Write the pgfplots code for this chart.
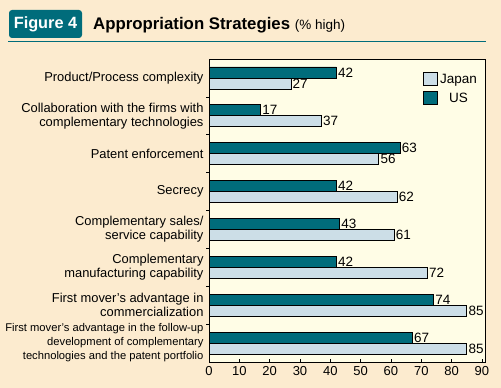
\documentclass[border=0pt]{standalone}
\usepackage{pgfplots}
\pgfplotsset{compat=1.18}
\usepackage{fontspec}
\setmainfont{Liberation Sans}
\definecolor{bgout}{HTML}{FCEBCF}
\definecolor{bgin}{HTML}{FFFDE6}
\definecolor{usc}{HTML}{006C7B}
\definecolor{jpc}{HTML}{CCDEE7}
\begin{document}
\begin{tikzpicture}
\fill[bgout] (0pt,0pt) rectangle (501pt,388pt);
\fill[usc, rounded corners=3pt] (9pt,350pt) rectangle (82pt,378pt);
\node[text=white, font=\bfseries\fontsize{16.3}{18}\selectfont] at (45.5pt,364pt) {Figure 4};
\node[anchor=base west, inner sep=0pt] at (93pt,358pt) {\fontsize{16.8}{19}\selectfont\bfseries Appropriation Strategies \fontsize{13.5}{15}\selectfont\mdseries (\% high)};
\draw[usc, line width=1pt] (8pt,346pt) -- (486pt,346pt);
\begin{axis}[
  at={(209pt,26pt)}, anchor=south west,
  width=276pt, height=303pt, scale only axis,
  axis background/.style={fill=bgin},
  xmin=0, xmax=91, ymin=-0.5, ymax=7.5,
  y dir=reverse,
  xtick={0,10,...,90},
  ytick={0,...,7},
  minor ytick={0.5,1.5,...,6.5},
  tick align=inside,
  major tick length=3pt, minor tick length=3pt,
  major y tick style={draw=none},
  xtick pos=bottom, ytick pos=left,
  axis line style={black, line width=0.6pt},
  tick style={black, line width=0.6pt},
  /pgf/number format/assume math mode=true,
  xticklabel style={font=\fontsize{13}{15}\selectfont, yshift=-1pt},
  yticklabel style={align=right, font=\fontsize{12.9}{14}\selectfont, xshift=1pt},
  yticklabels={
    {Product/Process complexity},
    {Collaboration with the firms with\\complementary technologies},
    {Patent enforcement},
    {Secrecy},
    {Complementary sales/\\service capability},
    {Complementary\\manufacturing capability},
    {First mover's advantage in\\commercialization},
    {\fontsize{11.2}{12.5}\selectfont First mover's advantage in the follow-up\\\fontsize{11.2}{12.5}\selectfont development of complementary\\\fontsize{11.2}{12.5}\selectfont technologies and the patent portfolio}},
  xbar, bar width=11pt,
  nodes near coords,
  every node near coord/.append style={font=\fontsize{13.5}{15}\selectfont, anchor=west, inner sep=1.5pt},
  legend style={at={(0.765,0.965)}, anchor=north west, draw=none, fill=none,
    font=\fontsize{13.5}{15}\selectfont, row sep=4pt,
    /tikz/every even column/.append style={column sep=2pt}},
  legend image code/.code={\draw[#1, draw=black, line width=0.7pt] (0pt,-6.5pt) rectangle (14pt,6.5pt);},
]
\addplot[fill=jpc, draw=black, line width=0.7pt, bar shift=-5.5pt] coordinates {
 (27,0) (37,1) (56,2) (62,3) (61,4) (72,5) (85,6) (85,7)};
\addlegendentry{Japan}
\addplot[fill=usc, draw=black, line width=0.7pt, bar shift=5.5pt] coordinates {
 (42,0) (17,1) (63,2) (42,3) (43,4) (42,5) (74,6) (67,7)};
\addlegendentry{US}
\end{axis}
\end{tikzpicture}
\end{document}
